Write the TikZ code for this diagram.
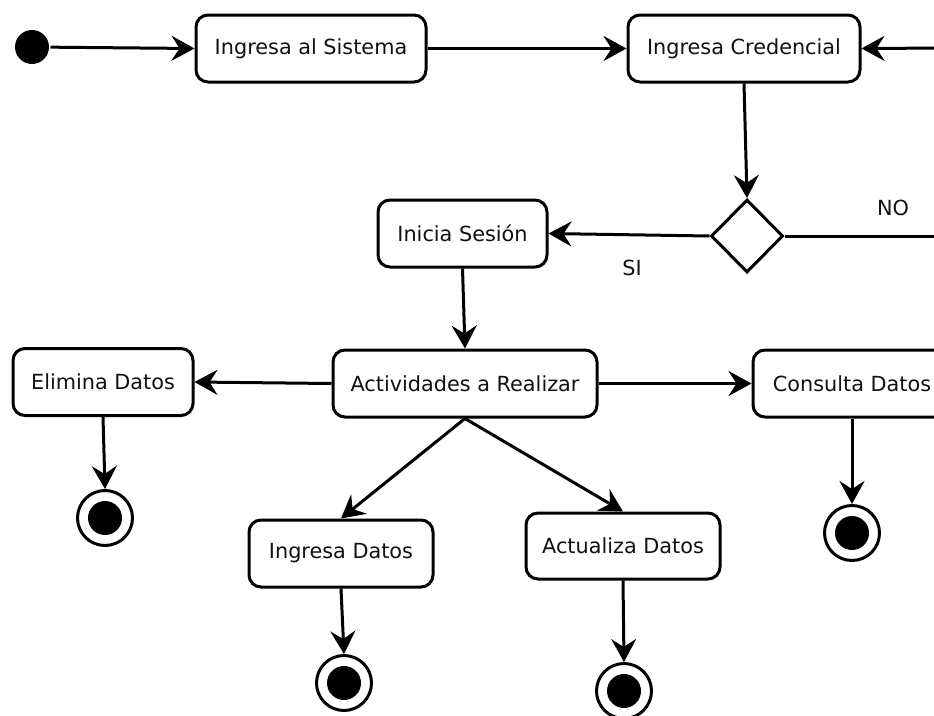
\documentclass[tikz,border=0pt]{standalone}
\usepackage{fontspec}
\setmainfont{DejaVu Sans}
\usetikzlibrary{shapes.geometric,arrows.meta}
\definecolor{ink}{HTML}{111111}
\begin{document}
\begin{tikzpicture}[x=1pt,y=-1pt, line width=3pt,
  actbox/.style={draw, rounded corners=12pt, minimum height=67pt, inner sep=0pt,
    font=\fontsize{20.8}{25}\selectfont, text=ink},
  flow/.style={-{Stealth[length=23pt,width=25pt,inset=8pt]}},
  endst/.style={circle, draw, minimum size=55pt, inner sep=0pt,
    path picture={\fill (path picture bounding box.center) circle (17pt);}},
  lbl/.style={font=\fontsize{20.8}{25}\selectfont, text=ink, inner sep=0pt}]
\clip (0,0) rectangle (934,715);
\fill[white] (0,0) rectangle (934,715);
% nodes
\node[circle, fill, minimum size=34pt, inner sep=0pt] (start) at (32,47) {};
\node[actbox, minimum width=230pt] (sis) at (311,48.5) {Ingresa al Sistema};
\node[actbox, minimum width=232pt] (cred) at (744,48.5) {Ingresa Credencial};
\node[diamond, draw, aspect=1, minimum width=72pt, minimum height=73pt, inner sep=0pt] (dia) at (747,236) {};
\node[actbox, minimum width=169pt] (ini) at (462.5,233.5) {Inicia Sesión};
\node[actbox, minimum width=264pt] (act) at (465,383.5) {Actividades a Realizar};
\node[actbox, minimum width=180pt] (eli) at (103,382) {Elimina Datos};
\node[actbox, minimum width=198pt] (con) at (852,383.5) {Consulta Datos};
\node[actbox, minimum width=184pt] (ing) at (341,553.5) {Ingresa Datos};
\node[actbox, minimum width=194pt, minimum height=66pt] (acu) at (623,546) {Actualiza Datos};
\node[endst] (e1) at (105,518) {};
\node[endst] (e2) at (852,533) {};
\node[endst] (e3) at (344,683) {};
\node[endst] (e4) at (624,691) {};
\coordinate (rin) at (950,48);
\coordinate (rout) at (950,236);
\node[lbl] (no) at (893,208) {NO};
\node[lbl] (si) at (632,268) {SI};
% connectors
\draw[flow] (start) -- (sis.west);
\draw[flow] (sis.east) -- (cred.west);
\draw[flow] (rin) -- (cred.east);
\draw[flow] (cred.south) -- (dia.north);
\draw (dia.east) -- (rout);
\draw[flow] (dia.west) -- (ini.east);
\draw[flow] (ini.south) -- (act.north);
\draw[flow] (act.west) -- (eli.east);
\draw[flow] (act.east) -- (con.west);
\draw[flow] (act.south) -- (ing.north);
\draw[flow] (act.south) -- (acu.north);
\draw[flow] (eli.south) -- (e1.north);
\draw[flow] (con.south) -- (e2.north);
\draw[flow] (ing.south) -- (e3.north);
\draw[flow] (acu.south) -- (e4.north);
\end{tikzpicture}
\end{document}
